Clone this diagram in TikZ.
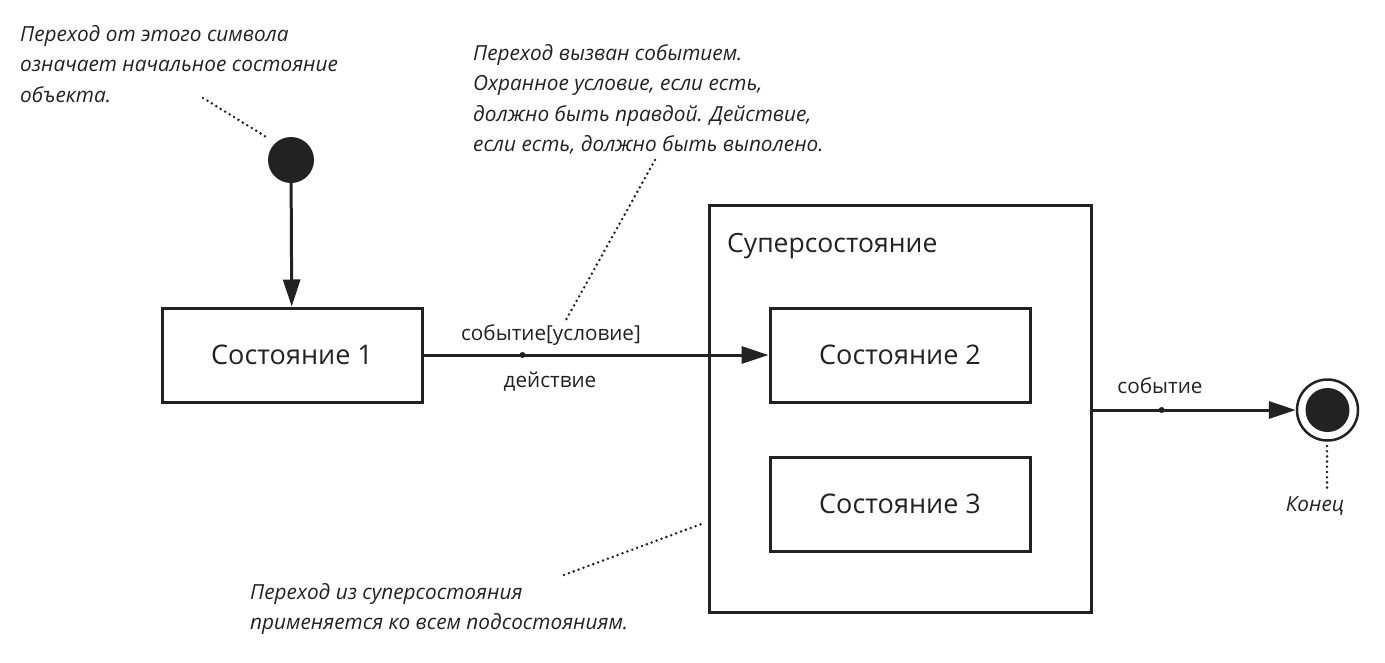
\documentclass[tikz,border=0pt]{standalone}
\usepackage{fontspec}
\setmainfont{Open Sans}
\usetikzlibrary{arrows.meta}
\definecolor{ink}{HTML}{222222}
\tikzset{
  statebox/.style={draw=ink, line width=3pt, rectangle, minimum width=260pt, minimum height=94pt, inner sep=0pt, font=\fontsize{27}{31}\selectfont, text=ink},
  conn/.style={draw=ink, line width=3pt, -{Triangle[length=27pt,width=17pt]}},
  note/.style={align=left, inner sep=0pt, anchor=north west, text=ink, font=\fontsize{20.8}{30.5}\selectfont\itshape},
  lbl/.style={inner sep=0pt, text=ink, font=\fontsize{20.7}{24}\selectfont},
  dotline/.style={draw=ink, line width=2.8pt, dash pattern=on 0pt off 5.2pt, line cap=round},
  tdot/.style={circle, fill=ink, inner sep=0pt, minimum size=6pt}
}
\begin{document}
\begin{tikzpicture}[x=1pt,y=-1pt]
\useasboundingbox (0,0) rectangle (1385,662);
% initial state
\node[circle, fill=ink, inner sep=0pt, minimum size=46pt] (init) at (291,160) {};
% states
\node[statebox] (s1) at (292,355) {Состояние 1};
\node[draw=ink, line width=3pt, rectangle, minimum width=382pt, minimum height=407pt, inner sep=0pt] (super) at (900,408.5) {};
\node[anchor=base west, inner sep=0pt, text=ink, font=\fontsize{26.5}{30}\selectfont] (suplbl) at (727,252) {Суперсостояние};
\node[statebox] (s2) at (900,355) {Состояние 2};
\node[statebox] (s3) at (900,504) {Состояние 3};
% final state
\node[circle, draw=ink, line width=2.5pt, fill=white, inner sep=0pt, minimum size=61pt] (final) at (1327.5,410) {};
\node[circle, fill=ink, inner sep=0pt, minimum size=44pt] (finalin) at (final.center) {};
% transitions
\draw[conn] (init) -- (s1);
\draw[conn] (s1.east) -- node[tdot, pos=0.287] (d1) {} (s2.west);
\draw[conn] (super.east |- final) -- node[tdot, pos=0.34] (d2) {} (final);
\node[lbl, anchor=base] (ev1) at (551,340) {событие[условие]};
\node[lbl, anchor=base] (act1) at (550,387) {действие};
\node[lbl, anchor=base] (ev2) at (1160,393) {событие};
% notes
\node[note] (n1) at (20,25) {Переход от этого символа\\означает начальное состояние\\объекта.};
\node[note] (n2) at (473,44) {Переход вызван событием.\\Охранное условие, если есть,\\должно быть правдой. Действие,\\если есть, должно быть выполено.};
\node[note] (n3) at (250,583) {Переход из суперсостояния\\применяется ко всем подсостояниям.};
\node[inner sep=0pt, anchor=base, text=ink, font=\fontsize{20.8}{24}\selectfont\itshape] (end) at (1315,511) {Конец};
% note leaders
\coordinate (a1) at (203,98);
\coordinate (b1) at (268,138);
\coordinate (a2) at (655,160);
\coordinate (b2) at (566,320);
\coordinate (a3) at (564,575);
\coordinate (b3) at (704,523);
\coordinate (a4) at (1327,446);
\coordinate (b4) at (1327,489);
\draw[dotline] (a1) -- (b1);
\draw[dotline] (a2) -- (b2);
\draw[dotline] (a3) -- (b3);
\draw[dotline] (a4) -- (b4);
\end{tikzpicture}
\end{document}
